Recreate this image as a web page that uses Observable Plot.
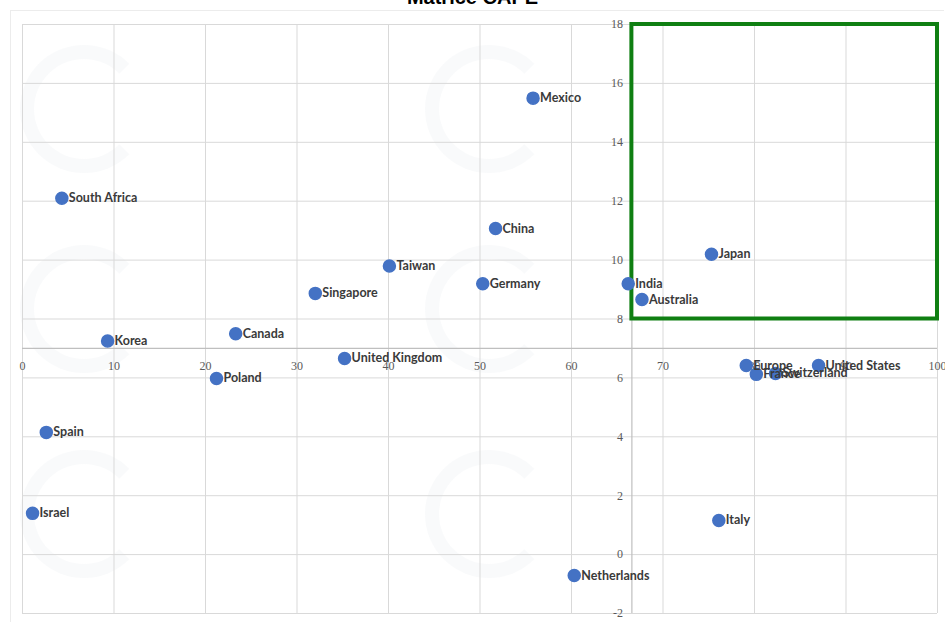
<!DOCTYPE html>
<html>
<head>
<meta charset="utf-8">
<script src="https://cdn.jsdelivr.net/npm/d3@7"></script>
<script src="https://cdn.jsdelivr.net/npm/@observablehq/plot@0.6"></script>
<style>
  html, body { margin: 0; padding: 0; background: #ffffff; }
  #wrap { position: relative; width: 945px; height: 622px; overflow: hidden; }
  #wm { position: absolute; left: 0; top: 0; width: 945px; height: 622px; }
  .wml { position: absolute; width: 100px; height: 100px; border-radius: 50%; border: 14px solid rgba(150,170,190,0.06); border-right-color: transparent; }
  #frame { position: absolute; left: 10px; top: 10px; width: 933px; height: 612px; border-left: 1px solid #ececec; border-top: 1px solid #ececec; }
  #chart { position: absolute; left: 0; top: 0; }
  #title { position: absolute; left: 0; width: 945px; top: -13px; text-align: center; font-family: "Liberation Sans", Arial, sans-serif; font-weight: bold; font-size: 20px; line-height: 1; color: #000; }
  #chart svg { background: transparent; }
</style>
</head>
<body>
<div id="wrap">
  <div id="wm"></div>
  <div id="frame"></div>
  <div id="chart"></div>
  <div id="title">Matrice CAPE</div>
</div>
<script>
// ---- data ----
const countries = ["Mexico","South Africa","China","Japan","Taiwan","India","Germany","Singapore","Australia","Canada","Korea","United Kingdom","Poland","Europe","France","Switzerland","United States","Spain","Israel","Italy","Netherlands"];
const percentile = [55.8, 4.3, 51.7, 75.3, 40.1, 66.2, 50.3, 32.0, 67.7, 23.3, 9.3, 35.2, 21.2, 79.1, 80.2, 82.3, 87.0, 2.6, 1.1, 76.1, 60.3];
const capeValue = [15.5, 12.1, 11.07, 10.2, 9.8, 9.2, 9.2, 8.87, 8.66, 7.5, 7.25, 6.66, 5.98, 6.42, 6.12, 6.15, 6.42, 4.15, 1.4, 1.16, -0.71];
const xTicks = [0,10,20,30,40,50,60,70,80,90,100];
const yTicks = [-2,0,2,4,6,8,10,12,14,16,18];
const xCross = 66.6;   // where the vertical axis crosses
const yCross = 7;      // where the horizontal axis crosses
const boxX = [66.6, 100];
const boxY = [8, 18];

const data = countries.map((c, i) => ({country: c, x: percentile[i], y: capeValue[i]}));

// faint watermark background (logo shapes only)
const wm = document.getElementById("wm");
for (const top of [55, 255, 460]) {
  for (const left of [140, 545]) {
    const l = document.createElement("div");
    l.className = "wml";
    l.style.left = (left - 120) + "px"; l.style.top = (top - 10) + "px";
    wm.appendChild(l);
  }
}

const tickFont = {fontFamily: "Liberation Serif, serif", fontSize: 12, fill: "#595959"};

const chart = Plot.plot({
  width: 945,
  height: 622,
  marginLeft: 22,
  marginRight: 8,
  marginTop: 24,
  marginBottom: 9,
  x: {domain: [0, 100], axis: null},
  y: {domain: [-2, 18], axis: null},
  marks: [
    Plot.gridX(xTicks, {stroke: "#d9d9d9", strokeOpacity: 1}),
    Plot.gridY(yTicks, {stroke: "#d9d9d9", strokeOpacity: 1}),
    Plot.ruleX([xCross], {stroke: "#bfbfbf", strokeWidth: 1.2}),
    Plot.ruleY([yCross], {stroke: "#bfbfbf", strokeWidth: 1.2}),
    Plot.rect([{x1: boxX[0], x2: boxX[1], y1: boxY[0], y2: boxY[1]}], {x1: "x1", x2: "x2", y1: "y1", y2: "y2", fill: "none", stroke: "#0f7f12", strokeWidth: 4}),
    Plot.text(yTicks, {x: () => xCross, y: d => d, text: d => String(d), textAnchor: "end", dx: -9, ...tickFont}),
    Plot.text(xTicks, {x: d => d, y: () => yCross, text: d => String(d), dy: 18, ...tickFont}),
    Plot.dot(data, {x: "x", y: "y", r: 6, fill: "#4472c4", stroke: "#4472c4"}),
    Plot.text(data, {x: "x", y: "y", text: "country", textAnchor: "start", dx: 7, dy: 0, fontFamily: "Lato, Open Sans, sans-serif", fontWeight: "bold", fontSize: 12.5, fill: "#3a3a3a"})
  ]
});
document.getElementById("chart").appendChild(chart);
</script>
</body>
</html>
